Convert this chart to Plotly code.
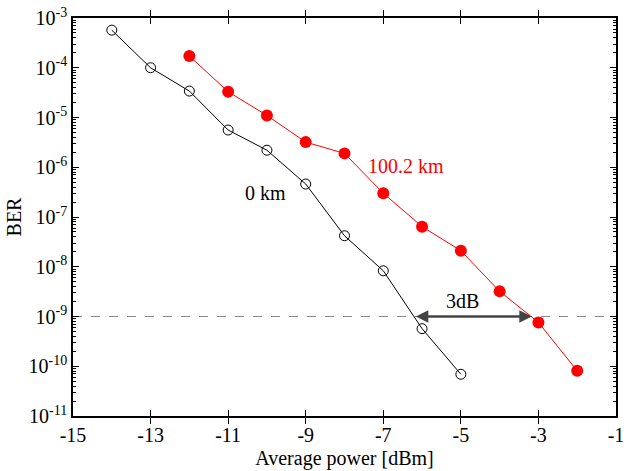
import plotly.graph_objects as go

power = [-14, -13, -12, -11, -10, -9, -8, -7, -6, -5]
ber_0km = [5.7e-4, 1.0e-4, 3.4e-5, 5.6e-6, 2.2e-6, 4.6e-7, 4.2e-8, 8.3e-9, 5.7e-10, 6.9e-11]
power_100 = [-12, -11, -10, -9, -8, -7, -6, -5, -4, -3, -2]
ber_100km = [1.72e-4, 3.3e-5, 1.1e-5, 3.2e-6, 1.9e-6, 3.0e-7, 6.4e-8, 2.1e-8, 3.2e-9, 7.6e-10, 8.1e-11]
x_ticks = [-15, -13, -11, -9, -7, -5, -3, -1]
y_exps = [-3, -4, -5, -6, -7, -8, -9, -10, -11]
ber_limit = 1e-9

FONT = "Liberation Serif, Times New Roman, serif"

fig = go.Figure()
fig.add_trace(go.Scatter(x=[-15, -1], y=[ber_limit, ber_limit], mode="lines",
                         line=dict(color="#888888", width=1.2, dash="dash"),
                         showlegend=False, hoverinfo="skip"))
# helper trace on an overlaid axis that carries the minor ticks
fig.add_trace(go.Scatter(x=[-15, -1], y=[ber_limit, ber_limit], mode="lines", yaxis="y2",
                         line=dict(color="rgba(0,0,0,0)", width=1),
                         showlegend=False, hoverinfo="skip"))
fig.add_trace(go.Scatter(x=power, y=ber_0km, mode="lines+markers",
                         line=dict(color="black", width=1),
                         marker=dict(symbol="circle-open", size=10, color="black",
                                     line=dict(width=1, color="black")),
                         showlegend=False))
fig.add_trace(go.Scatter(x=power_100, y=ber_100km, mode="lines+markers",
                         line=dict(color="red", width=1),
                         marker=dict(symbol="circle", size=12, color="red"),
                         showlegend=False))

fig.add_annotation(x=-3.17, y=-9, ax=-6.2, ay=-9, xref="x", yref="y", axref="x", ayref="y",
                   text="", showarrow=True, arrowhead=2, startarrowhead=2, arrowside="end+start",
                   arrowsize=1, arrowwidth=2.5, arrowcolor="#444444")
fig.add_annotation(x=-4.97, y=-8.68, text="3dB", showarrow=False,
                   font=dict(family=FONT, size=20, color="black"))
fig.add_annotation(x=-6.41, y=-5.97, text="100.2 km", showarrow=False,
                   font=dict(family=FONT, size=20, color="red"))
fig.add_annotation(x=-10.03, y=-6.52, text="0 km", showarrow=False,
                   font=dict(family=FONT, size=20, color="black"))

fig.update_layout(
    width=632, height=471, margin=dict(l=73, r=16, t=18, b=55),
    paper_bgcolor="white", plot_bgcolor="white",
    font=dict(family=FONT, color="black"),
    xaxis=dict(range=[-15, -1], tickmode="array", tickvals=x_ticks,
               ticktext=[str(v) for v in x_ticks], automargin=False,
               ticks="inside", ticklen=6, tickwidth=1, tickcolor="black",
               showline=True, linecolor="black", linewidth=1.5, mirror="allticks",
               showgrid=False, zeroline=False,
               title=dict(text="Average power [dBm]", font=dict(family=FONT, size=20), standoff=6),
               tickfont=dict(family=FONT, size=20, color="black")),
    yaxis=dict(type="log", range=[-11, -3], tickmode="array", automargin=False,
               tickvals=[10.0 ** e for e in y_exps],
               ticktext=["10<sup>%d</sup>" % e for e in y_exps],
               ticks="inside", ticklen=6, tickwidth=1, tickcolor="black",
               minor=dict(tickmode="linear", dtick="D1", ticks="inside", ticklen=3,
                          tickwidth=1, tickcolor="black", showgrid=False),
               showline=True, linecolor="black", linewidth=1.5, mirror="allticks",
               showgrid=False, zeroline=False,
               title=dict(text="BER", font=dict(family=FONT, size=20), standoff=2),
               tickfont=dict(family=FONT, size=20, color="black")),
    yaxis2=dict(type="log", range=[-11, -3], overlaying="y", side="left",
                tickmode="linear", dtick="D1", showticklabels=False, automargin=False,
                ticks="inside", ticklen=3, tickwidth=1, tickcolor="black",
                showline=True, linecolor="black", linewidth=1.5, mirror="allticks",
                showgrid=False, zeroline=False),
)

fig.write_html("out.html")
